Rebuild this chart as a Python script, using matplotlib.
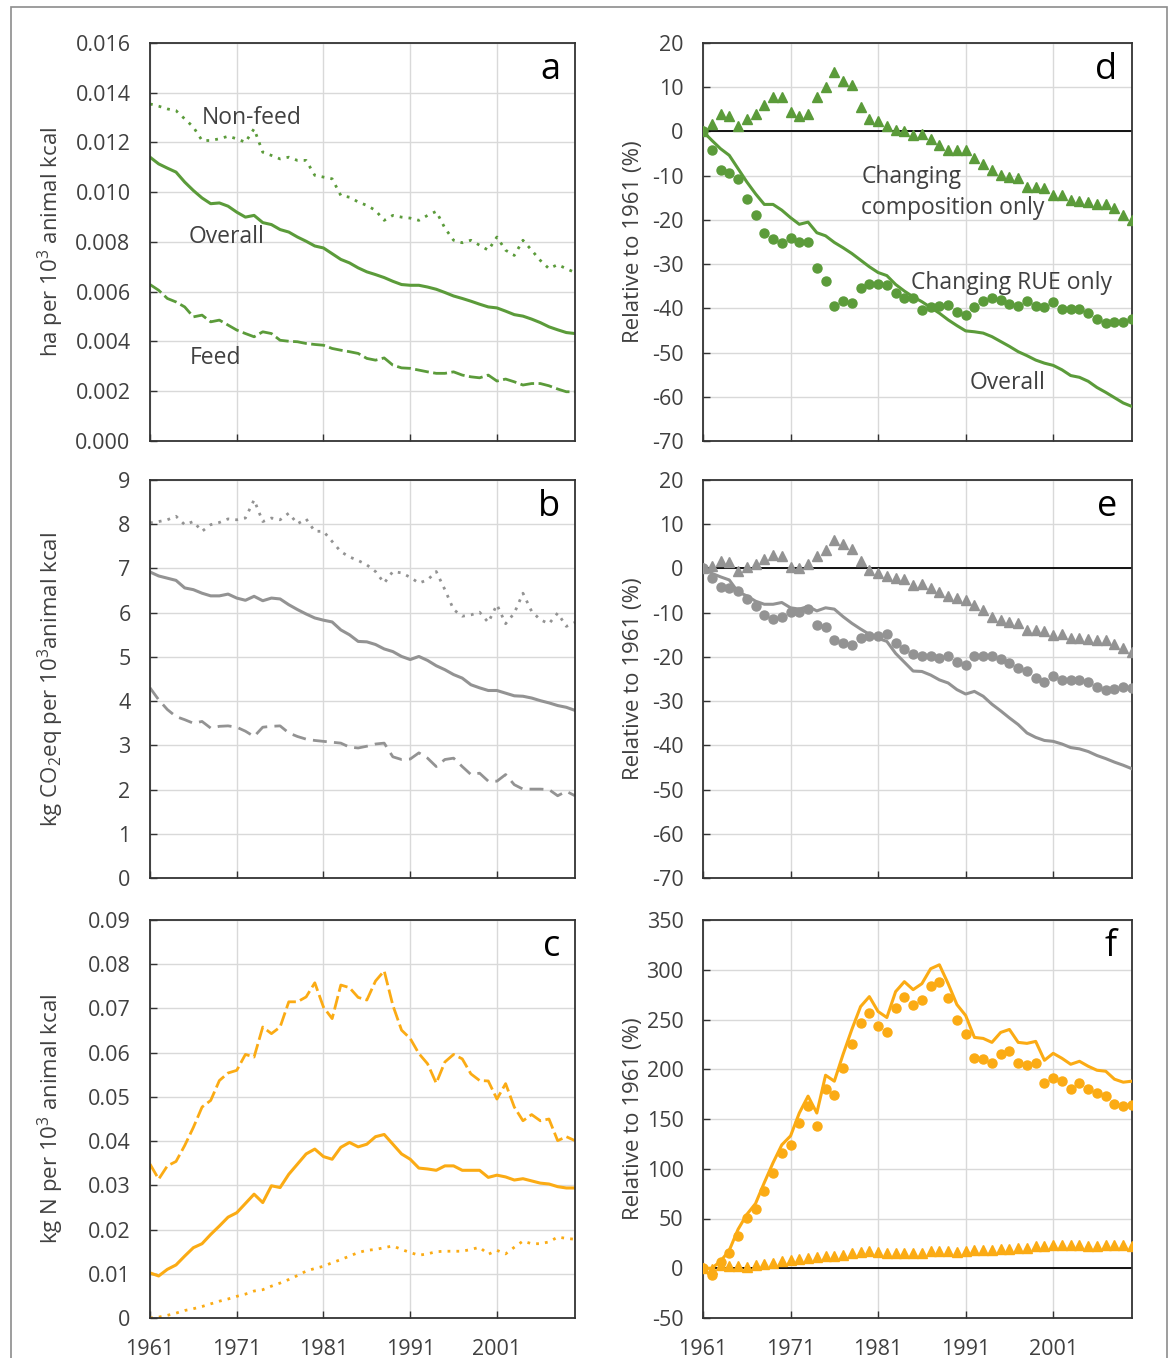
import matplotlib
matplotlib.use('Agg')
import matplotlib.pyplot as plt
from matplotlib.patches import Rectangle

plt.rcParams['font.family'] = ['Open Sans', 'DejaVu Sans']
plt.rcParams['mathtext.fontset'] = 'custom'
plt.rcParams['mathtext.rm'] = 'Open Sans'
plt.rcParams['mathtext.it'] = 'Open Sans:italic'
plt.rcParams['mathtext.default'] = 'regular'
plt.rcParams['axes.unicode_minus'] = False

years = list(range(1961, 2011))
xticks = [1961, 1971, 1981, 1991, 2001]

# ---- panel a: land use (ha per 10^3 animal kcal)
land_overall = [0.01141, 0.01114, 0.01097, 0.01081, 0.01041, 0.01007, 0.00977, 0.00954, 0.00957, 0.00944,
                0.00920, 0.00900, 0.00907, 0.00878, 0.00870, 0.00850, 0.00840, 0.00820, 0.00803, 0.00784,
                0.00776, 0.00753, 0.00730, 0.00716, 0.00696, 0.00680, 0.00669, 0.00657, 0.00642, 0.00629,
                0.00626, 0.00626, 0.00619, 0.00610, 0.00597, 0.00583, 0.00573, 0.00562, 0.00550, 0.00539,
                0.00535, 0.00522, 0.00508, 0.00502, 0.00490, 0.00476, 0.00459, 0.00447, 0.00436, 0.00432]
land_nonfeed = [0.01355, 0.01346, 0.01335, 0.01328, 0.01295, 0.01262, 0.01208, 0.01208, 0.01215, 0.01225,
                0.01215, 0.01201, 0.01255, 0.01161, 0.01148, 0.01134, 0.01141, 0.01128, 0.01128, 0.01068,
                0.01061, 0.01054, 0.00987, 0.00980, 0.00961, 0.00947, 0.00927, 0.00887, 0.00907, 0.00900,
                0.00896, 0.00887, 0.00907, 0.00923, 0.00856, 0.00807, 0.00797, 0.00807, 0.00787, 0.00767,
                0.00820, 0.00767, 0.00746, 0.00807, 0.00767, 0.00726, 0.00693, 0.00709, 0.00693, 0.00677]
land_feed = [0.00629, 0.00606, 0.00573, 0.00559, 0.00539, 0.00499, 0.00506, 0.00479, 0.00486, 0.00466,
             0.00446, 0.00432, 0.00419, 0.00439, 0.00432, 0.00405, 0.00401, 0.00399, 0.00392, 0.00388,
             0.00385, 0.00372, 0.00365, 0.00359, 0.00352, 0.00332, 0.00325, 0.00334, 0.00305, 0.00294,
             0.00292, 0.00285, 0.00278, 0.00272, 0.00272, 0.00278, 0.00265, 0.00258, 0.00254, 0.00265,
             0.00241, 0.00249, 0.00238, 0.00225, 0.00231, 0.00231, 0.00222, 0.00209, 0.00198, 0.00198]

# ---- panel d: land use relative to 1961 (%)
land_rel_comp = [0, 1.7, 4.0, 3.6, 1.2, 2.9, 4.0, 5.9, 7.7, 7.7,
                 4.4, 3.6, 4.0, 7.7, 10.0, 13.4, 11.5, 10.4, 5.5, 2.9,
                 2.3, 1.2, 0.4, 0.2, -0.9, -0.5, -1.8, -3.0, -4.3, -4.3,
                 -4.3, -6.0, -7.3, -8.8, -9.8, -10.2, -10.5, -12.6, -12.6, -12.8,
                 -14.4, -14.3, -15.6, -15.8, -15.9, -16.3, -16.3, -17.4, -18.9, -20.1]
land_rel_rue = [0, -4.3, -8.8, -9.3, -10.8, -15.2, -18.9, -22.9, -24.4, -25.3,
                -24.2, -25.0, -25.0, -30.8, -33.8, -39.4, -38.3, -38.9, -35.3, -34.6,
                -34.6, -34.7, -36.6, -37.6, -37.7, -40.4, -39.8, -39.4, -39.2, -40.8,
                -41.4, -39.8, -38.3, -37.7, -38.1, -39.1, -39.4, -38.3, -39.4, -39.8,
                -38.5, -40.2, -40.2, -40.2, -41.1, -42.3, -43.4, -43.0, -43.0, -42.4]
land_rel_overall = [0, -2.0, -3.9, -5.4, -8.4, -11.4, -14.1, -16.5, -16.5, -17.8,
                    -19.5, -21.0, -20.5, -22.9, -23.6, -25.1, -26.3, -27.6, -29.1, -30.6,
                    -31.9, -32.6, -34.6, -36.1, -37.4, -38.5, -39.8, -41.1, -42.6, -43.9,
                    -45.1, -45.3, -45.6, -46.4, -47.5, -48.6, -49.8, -50.7, -51.7, -52.4,
                    -52.9, -53.9, -55.2, -55.6, -56.5, -57.9, -59.0, -60.2, -61.4, -62.2]

# ---- panel b: GHG (kg CO2eq per 10^3 animal kcal)
ghg_overall = [6.92, 6.83, 6.78, 6.73, 6.56, 6.52, 6.44, 6.38, 6.38, 6.42,
               6.33, 6.28, 6.37, 6.27, 6.33, 6.31, 6.18, 6.07, 5.97, 5.88,
               5.83, 5.79, 5.61, 5.50, 5.35, 5.34, 5.28, 5.18, 5.12, 5.01,
               4.94, 5.01, 4.92, 4.80, 4.71, 4.60, 4.52, 4.37, 4.30, 4.24,
               4.24, 4.18, 4.12, 4.11, 4.07, 4.01, 3.96, 3.90, 3.86, 3.79]
ghg_nonfeed = [8.03, 8.06, 8.10, 8.18, 7.99, 8.06, 7.84, 7.99, 8.04, 8.12,
               8.10, 8.14, 8.55, 8.06, 8.14, 8.10, 8.25, 8.01, 8.12, 7.84,
               7.84, 7.61, 7.38, 7.26, 7.18, 7.08, 6.93, 6.67, 6.93, 6.90,
               6.80, 6.67, 6.74, 6.93, 6.52, 6.07, 5.92, 5.95, 6.01, 5.78,
               6.18, 5.75, 5.99, 6.44, 6.03, 5.84, 5.75, 5.99, 5.69, 5.78]
ghg_feed = [4.30, 4.03, 3.81, 3.65, 3.58, 3.50, 3.54, 3.39, 3.43, 3.44,
            3.41, 3.32, 3.20, 3.41, 3.43, 3.44, 3.28, 3.20, 3.14, 3.11,
            3.09, 3.07, 3.05, 2.96, 2.94, 2.98, 3.03, 3.05, 2.74, 2.68,
            2.69, 2.83, 2.71, 2.52, 2.68, 2.71, 2.52, 2.34, 2.37, 2.19,
            2.19, 2.34, 2.11, 2.01, 2.01, 2.01, 2.00, 1.86, 1.96, 1.86]

# ---- panel e: GHG relative to 1961 (%)
ghg_rel_comp = [0, 0.6, 1.7, 1.4, -0.6, 0.4, 1.1, 2.1, 3.0, 2.9,
                0.4, 0.0, 0.9, 2.9, 4.1, 6.4, 5.6, 4.5, 1.7, -0.4,
                -1.1, -1.7, -2.1, -2.4, -3.8, -3.6, -4.5, -5.3, -6.2, -6.6,
                -7.1, -8.3, -9.4, -10.9, -11.7, -12.0, -12.4, -13.9, -13.9, -14.1,
                -15.0, -14.8, -15.8, -15.8, -15.9, -16.2, -16.2, -17.1, -18.0, -18.9]
ghg_rel_rue = [0, -2.1, -4.1, -4.4, -5.1, -6.9, -8.6, -10.5, -11.4, -10.9,
               -9.9, -9.9, -9.2, -12.8, -13.2, -16.2, -16.9, -17.4, -15.8, -15.2,
               -15.2, -14.9, -16.9, -18.2, -19.4, -19.9, -19.9, -20.2, -19.9, -21.1,
               -21.8, -19.9, -19.7, -19.9, -20.5, -21.4, -22.6, -23.2, -24.7, -25.6,
               -24.4, -25.2, -25.2, -25.2, -25.6, -26.7, -27.4, -27.2, -26.7, -27.1]
ghg_rel_overall = [0, -1.1, -1.9, -2.6, -5.3, -6.2, -7.4, -8.1, -8.1, -7.7,
                   -8.9, -9.2, -8.6, -9.6, -8.9, -9.2, -10.9, -12.4, -13.7, -14.9,
                   -15.8, -16.5, -19.2, -21.2, -23.2, -23.3, -24.1, -25.2, -25.9, -27.4,
                   -28.4, -27.8, -28.9, -30.7, -32.2, -33.8, -35.3, -37.2, -38.2, -38.9,
                   -39.1, -39.7, -40.5, -40.8, -41.4, -42.3, -43.0, -43.8, -44.5, -45.3]

# ---- panel c: nitrogen (kg N per 10^3 animal kcal)
n_overall = [0.0102, 0.0095, 0.0110, 0.0120, 0.0140, 0.0159, 0.0168, 0.0189, 0.0208, 0.0228,
             0.0238, 0.0259, 0.0280, 0.0261, 0.0299, 0.0295, 0.0325, 0.0348, 0.0371, 0.0382,
             0.0365, 0.0359, 0.0386, 0.0397, 0.0387, 0.0393, 0.0410, 0.0415, 0.0393, 0.0371,
             0.0359, 0.0339, 0.0337, 0.0334, 0.0344, 0.0344, 0.0334, 0.0334, 0.0334, 0.0318,
             0.0323, 0.0319, 0.0312, 0.0315, 0.0310, 0.0305, 0.0303, 0.0297, 0.0294, 0.0294]
n_feed = [0.0348, 0.0314, 0.0344, 0.0354, 0.0390, 0.0431, 0.0477, 0.0492, 0.0537, 0.0554,
          0.0560, 0.0596, 0.0590, 0.0658, 0.0643, 0.0658, 0.0715, 0.0715, 0.0726, 0.0758,
          0.0703, 0.0677, 0.0753, 0.0747, 0.0725, 0.0719, 0.0762, 0.0785, 0.0707, 0.0651,
          0.0632, 0.0598, 0.0575, 0.0531, 0.0579, 0.0596, 0.0586, 0.0552, 0.0537, 0.0536,
          0.0495, 0.0530, 0.0477, 0.0446, 0.0460, 0.0446, 0.0450, 0.0401, 0.0410, 0.0401]
n_nonfeed = [0.0000, 0.0002, 0.0006, 0.0011, 0.0017, 0.0021, 0.0026, 0.0032, 0.0038, 0.0043,
             0.0049, 0.0054, 0.0061, 0.0064, 0.0072, 0.0079, 0.0087, 0.0096, 0.0106, 0.0112,
             0.0117, 0.0125, 0.0132, 0.0140, 0.0148, 0.0153, 0.0155, 0.0159, 0.0163, 0.0155,
             0.0148, 0.0142, 0.0145, 0.0150, 0.0151, 0.0151, 0.0151, 0.0155, 0.0160, 0.0144,
             0.0153, 0.0145, 0.0160, 0.0174, 0.0168, 0.0168, 0.0172, 0.0183, 0.0180, 0.0178]

# ---- panel f: nitrogen relative to 1961 (%)
n_rel_overall = [0, 0, 7, 18, 39, 54, 65, 86, 106, 124,
                 133, 156, 173, 156, 194, 188, 215, 240, 263, 273,
                 258, 252, 278, 288, 280, 286, 301, 305, 286, 265,
                 254, 232, 231, 227, 237, 240, 227, 226, 228, 209,
                 216, 211, 205, 208, 203, 199, 198, 190, 187, 188]
n_rel_rue = [0, -7, 6, 15, 32, 51, 60, 78, 96, 116,
             124, 146, 163, 143, 180, 174, 201, 225, 246, 257,
             243, 237, 262, 273, 265, 270, 284, 288, 272, 249,
             235, 211, 210, 206, 215, 218, 206, 204, 206, 186,
             191, 188, 180, 186, 180, 176, 173, 165, 163, 164]
n_rel_comp = [0, -1, 3, 2, 2, 1, 3, 4, 5, 7,
              8, 9, 10, 11, 12, 12, 13, 15, 16, 17,
              16, 15, 15, 15, 15, 15, 17, 17, 17, 16,
              17, 18, 18, 18, 19, 19, 20, 20, 22, 22,
              23, 23, 23, 23, 22, 22, 23, 23, 23, 22]

GREEN = '#5b9b3a'
GRAY = '#939393'
ORANGE = '#fbab14'
TXT = '#404040'

W, H = 1173, 1358
fig = plt.figure(figsize=(W / 100, H / 100), dpi=100)

def axes_px(left, top, width, height):
    return fig.add_axes([left / W, 1 - (top + height) / H, width / W, height / H])

LW_, LX, RX, RW_ = 425, 150, 703, 429
AH = 398
tops = [43, 480, 920]

ax_a = axes_px(LX, tops[0], LW_, AH)
ax_b = axes_px(LX, tops[1], LW_, AH)
ax_c = axes_px(LX, tops[2], LW_, AH)
ax_d = axes_px(RX, tops[0], RW_, AH)
ax_e = axes_px(RX, tops[1], RW_, AH)
ax_f = axes_px(RX, tops[2], RW_, AH)

DOT = (0, (1, 2.2))
DASH = (0, (5, 1.6))

def style(ax, ylim, yticks, fmt, bottom_labels, letter, ylabel, left_col):
    ax.set_xlim(1961, 2010)
    ax.set_ylim(*ylim)
    ax.set_xticks(xticks)
    ax.set_yticks(yticks)
    ax.set_yticklabels([fmt(v) for v in yticks])
    ax.grid(True, color='#d9d9d9', lw=1.0)
    ax.set_axisbelow(True)
    for sp in ax.spines.values():
        sp.set_color('#333333')
        sp.set_linewidth(1.3)
    ax.tick_params(direction='in', length=5, width=1, color='#333333',
                   labelsize=15.5, labelcolor=TXT)
    ax.tick_params(axis='y', pad=14)
    ax.tick_params(axis='x', labelbottom=bottom_labels, pad=15)
    ax.text(0.965, 0.932, letter, transform=ax.transAxes, ha='right', va='center',
            fontsize=26, color='black')
    ax.set_ylabel(ylabel, fontsize=16, color=TXT, va='center')
    if left_col:
        ax.yaxis.set_label_coords(-0.232, 0.5)
    else:
        ax.yaxis.set_label_coords(-0.162, 0.5)

# panel a
ax_a.plot(years, land_nonfeed, color=GREEN, lw=2.0, ls=DOT)
ax_a.plot(years, land_overall, color=GREEN, lw=2.2)
ax_a.plot(years, land_feed, color=GREEN, lw=2.0, ls=DASH)
style(ax_a, (0, 0.016), [0.000, 0.002, 0.004, 0.006, 0.008, 0.010, 0.012, 0.014, 0.016],
      lambda v: f'{v:.3f}', False, 'a', 'ha per 10$^3$ animal kcal', True)
ax_a.text(1967.0, 0.0130, 'Non-feed', fontsize=16.5, color=TXT, va='center', ha='left')
ax_a.text(1965.4, 0.00822, 'Overall', fontsize=16.5, color=TXT, va='center', ha='left')
ax_a.text(1965.6, 0.00335, 'Feed', fontsize=16.5, color=TXT, va='center', ha='left')

# panel b
ax_b.plot(years, ghg_nonfeed, color=GRAY, lw=2.0, ls=DOT)
ax_b.plot(years, ghg_overall, color=GRAY, lw=2.2)
ax_b.plot(years, ghg_feed, color=GRAY, lw=2.0, ls=(0, (5, 2.6)))
style(ax_b, (0, 9), list(range(0, 10)), lambda v: f'{v:d}', False, 'b',
      'kg CO$_2$eq per 10$^3$animal kcal', True)

# panel c
ax_c.plot(years, n_feed, color=ORANGE, lw=2.0, ls=DASH)
ax_c.plot(years, n_overall, color=ORANGE, lw=2.2)
ax_c.plot(years, n_nonfeed, color=ORANGE, lw=2.0, ls=DOT)
style(ax_c, (0, 0.09), [0, 0.01, 0.02, 0.03, 0.04, 0.05, 0.06, 0.07, 0.08, 0.09],
      lambda v: '0' if v == 0 else f'{v:.2f}', True, 'c', 'kg N per 10$^3$ animal kcal', True)

# relative panels
def rel_panel(ax, comp, rue, overall, color):
    ax.axhline(0, color='black', lw=1.3, zorder=2)
    ax.plot(years, comp, ls='none', marker='^', ms=7.2, color=color, mec=color, zorder=3)
    ax.plot(years, rue, ls='none', marker='o', ms=6.5, color=color, mec=color, zorder=3)
    ax.plot(years, overall, color=color, lw=2.2, zorder=4)

rel_panel(ax_d, land_rel_comp, land_rel_rue, land_rel_overall, GREEN)
style(ax_d, (-70, 20), list(range(-70, 21, 10)), lambda v: f'{v:d}', False, 'd',
      'Relative to 1961 (%)', False)
ax_d.text(1979.1, -13.8, 'Changing\ncomposition only', fontsize=16.5, color=TXT,
          va='center', ha='left', linespacing=1.4)
ax_d.text(1984.8, -34.2, 'Changing RUE only', fontsize=16.5, color=TXT, va='center', ha='left')
ax_d.text(1991.4, -56.9, 'Overall', fontsize=16.5, color=TXT, va='center', ha='left')

rel_panel(ax_e, ghg_rel_comp, ghg_rel_rue, ghg_rel_overall, GRAY)
style(ax_e, (-70, 20), list(range(-70, 21, 10)), lambda v: f'{v:d}', False, 'e',
      'Relative to 1961 (%)', False)

rel_panel(ax_f, n_rel_comp, n_rel_rue, n_rel_overall, ORANGE)
style(ax_f, (-50, 350), list(range(-50, 351, 50)), lambda v: f'{v:d}', True, 'f',
      'Relative to 1961 (%)', False)

# outer frame
fig.patches.append(Rectangle((11 / W, -0.01), (1167 - 11) / W, 1 - 7 / H + 0.01,
                             transform=fig.transFigure, fill=False,
                             edgecolor='#8c8c8c', lw=1.2))

fig.savefig('out.png', dpi=100)
